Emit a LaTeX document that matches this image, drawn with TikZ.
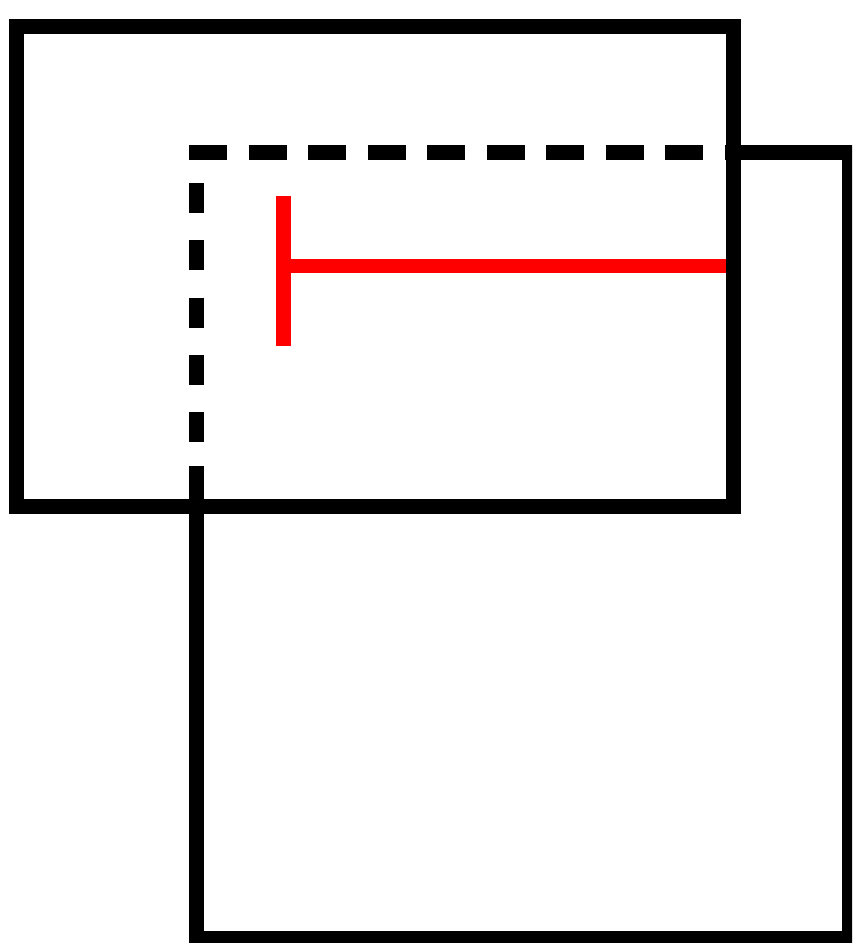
\documentclass[tikz,border=0pt]{standalone}
\begin{document}
\begin{tikzpicture}[x=1pt,y=-1pt,
  blackline/.style={draw=black,line width=15pt,line cap=butt,line join=miter},
  redline/.style={draw=red,line width=14.5pt,line cap=butt}]
\useasboundingbox (0,0) rectangle (852,943);
\clip (0,0) rectangle (852,943);
% named corners
\coordinate (r1tl) at (16.5,26);
\coordinate (r1br) at (733.5,506.5);
\coordinate (r2tl) at (196.5,152.5);
\coordinate (r2tr) at (849.5,152.5);
\coordinate (r2br) at (849.5,938.5);
\coordinate (r2bl) at (196.5,938.5);
\coordinate (r2join) at (733.5,152.5);
\coordinate (r2solid) at (196.5,466);
\coordinate (dtopA) at (189,152.5);
\coordinate (dtopB) at (726,152.5);
\coordinate (dleftA) at (196.5,183);
\coordinate (dleftB) at (196.5,442);
\coordinate (tbarTop) at (283.5,196);
\coordinate (tbarBot) at (283.5,346);
\coordinate (tstem) at (283.5,266);
\coordinate (tend) at (726,266);
% rectangle 1
\draw[blackline] (r1tl) rectangle (r1br);
% rectangle 2, solid part
\draw[blackline] (r2join) -- (r2tr) -- (r2br) -- (r2bl) -- (r2solid);
% rectangle 2, dashed part (inside rectangle 1)
\draw[blackline,dash pattern=on 38pt off 21.5pt] (dtopA) -- (dtopB);
\draw[blackline,dash pattern=on 30pt off 27.25pt] (dleftA) -- (dleftB);
% red T
\draw[redline] (tstem) -- (tend);
\draw[redline,line width=15pt] (tbarTop) -- (tbarBot);
\end{tikzpicture}
\end{document}
